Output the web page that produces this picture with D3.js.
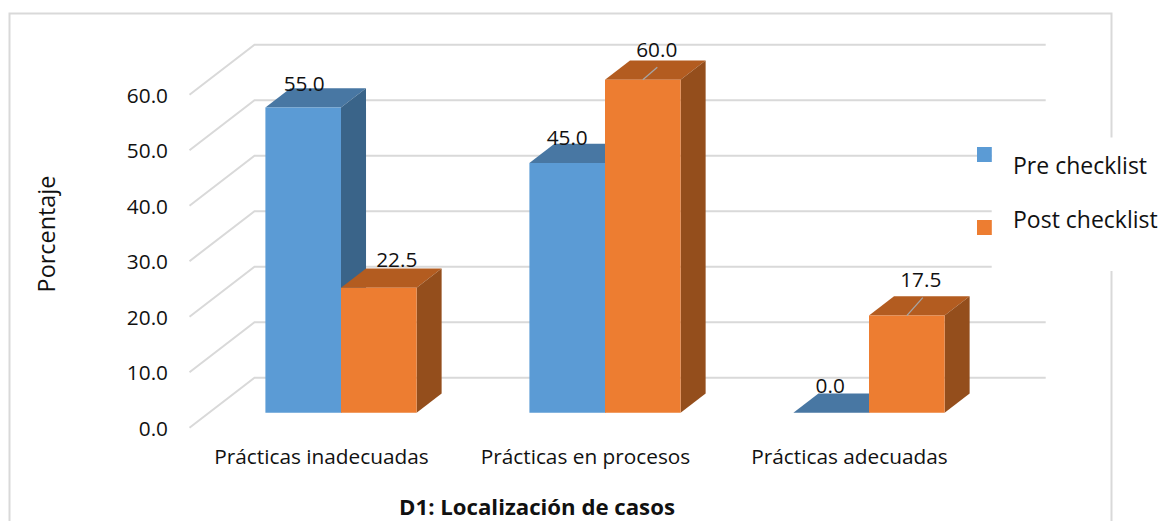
<!DOCTYPE html>
<html lang="es">
<head>
<meta charset="utf-8">
<title>D1: Localización de casos</title>
<script src="https://cdn.jsdelivr.net/npm/d3@7/dist/d3.min.js"></script>
<style>
  html, body { margin: 0; padding: 0; background: #fff; }
  svg { display: block; }
  text { font-family: "Open Sans", "Noto Sans", sans-serif; fill: #111; }
</style>
</head>
<body>
<svg id="chart" width="1162" height="521"></svg>
<script>
// Values of the chart
const categories = ["Prácticas inadecuadas", "Prácticas en procesos", "Prácticas adecuadas"];
const seriesNames = ["Pre checklist", "Post checklist"];
const preChecklist = [55.0, 45.0, 0.0];
const postChecklist = [22.5, 60.0, 17.5];
const yTicks = [0, 10, 20, 30, 40, 50, 60];
const axisTitleY = "Porcentaje";
const axisTitleX = "D1: Localización de casos";

const svg = d3.select("#chart");
const tickFont = 20.8, titleFont = 22.2, sideFont = 23.4, legendFont = 23;

// Oblique projection of the 3-D box: depth runs from the front edge of the floor to the back wall
const depthDX = 65, depthDY = -50;
const barDepthStart = 0.3, barDepthEnd = 0.685;
const project = (x, y, d) => [x + depthDX * d, y + depthDY * d];

const y = d3.scaleLinear().domain([0, 60]).range([427.7, 94.7]);
const x0 = d3.scaleBand().domain(d3.range(categories.length)).range([189.5, 981.5]);
const x1 = d3.scaleBand().domain(d3.range(seriesNames.length))
  .range([0, x0.bandwidth()]).paddingInner(0).paddingOuter(0.746);

const palette = [
  { front: "#5B9BD5", top: "#4877A3", side: "#3A6489" },
  { front: "#ED7D31", top: "#B35C20", side: "#944E1C" }
];

// Outer chart frame (open at the bottom edge)
svg.append("path")
  .attr("d", "M9.5,521V13.5H1111.5V521")
  .attr("fill", "none").attr("stroke", "#d9d9d9").attr("stroke-width", 2);

// Gridlines: diagonal on the side wall, horizontal on the back wall
const wallEndX = 1045.7;
const grid = svg.append("g").attr("fill", "none").attr("stroke", "#d9d9d9").attr("stroke-width", 2);
grid.selectAll("path").data(yTicks).join("path")
  .attr("d", v => {
    const [bx, by] = project(x0.range()[0], y(v), 1);
    return d3.line()([[x0.range()[0], y(v)], [bx, by], [wallEndX, by]]);
  });

// Value axis, labels only
const axis = svg.append("g")
  .attr("transform", "translate(177,0)")
  .call(d3.axisLeft(y).tickValues(yTicks).tickSize(0).tickPadding(9).tickFormat(d3.format(".1f")));
axis.select(".domain").remove();
axis.attr("font-family", null);
axis.selectAll("text").attr("font-size", tickFont).attr("dy", "0.36em");

// Draws one prism: top face, side face, then front face
function drawBar(g, c, s, value) {
  const colors = palette[s];
  const left = x0(c) + x1(s), right = left + x1.bandwidth();
  const base = y(0), topY = y(value);
  const fl = project(left, topY, barDepthStart), fr = project(right, topY, barDepthStart);
  const bl = project(left, topY, barDepthEnd), br = project(right, topY, barDepthEnd);
  const frBase = project(right, base, barDepthStart), brBase = project(right, base, barDepthEnd);
  const flBase = project(left, base, barDepthStart);
  const poly = pts => d3.line()(pts) + "Z";
  g.append("path").attr("d", poly([fl, bl, br, fr])).attr("fill", colors.top);
  if (value > 0) {
    g.append("path").attr("d", poly([fr, br, brBase, frBase])).attr("fill", colors.side);
    g.append("path").attr("d", poly([fl, fr, frBase, flBase])).attr("fill", colors.front);
  }
}

const bars = svg.append("g");
categories.forEach((_, c) => {
  [preChecklist, postChecklist].forEach((vals, s) => drawBar(bars, c, s, vals[c]));
});

// White panel behind the legend hides the frame and gridlines there
svg.append("rect").attr("x", 991.7).attr("y", 137.5).attr("width", 171).attr("height", 133.5).attr("fill", "#fff");

// Leader lines from the displaced data labels to their bars
const barTopCenter = (c, s, v) => [x0(c) + x1(s) + x1.bandwidth() / 2 + depthDX * barDepthStart, y(v) + depthDY * barDepthStart];
const leaders = [
  { c: 1, s: 1, v: postChecklist[1], dx: 14.5, dy: -12.5 },
  { c: 2, s: 1, v: postChecklist[2], dx: 16, dy: -18 }
];
svg.append("g").selectAll("path").data(leaders).join("path")
  .attr("fill", "none").attr("stroke", "#a6a6a6").attr("stroke-width", 1.3)
  .attr("d", l => {
    const [px, py] = barTopCenter(l.c, l.s, l.v);
    return d3.line()([[px, py], [px + l.dx, py + l.dy]]);
  });

// Data labels, each nudged the way it sits over its prism
const labelNudges = [
  [{ dx: 1, dy: -16.6 }, { dx: 18, dy: -21 }],
  [{ dx: 0, dy: -18 }, { dx: 14, dy: -23 }],
  [{ dx: -1, dy: -19.7 }, { dx: 14, dy: -29 }]
];
const labels = svg.append("g").attr("text-anchor", "middle").attr("font-size", tickFont);
categories.forEach((_, c) => {
  [preChecklist, postChecklist].forEach((vals, s) => {
    const [px, py] = barTopCenter(c, s, vals[c]);
    const n = labelNudges[c][s];
    labels.append("text").attr("x", px + n.dx).attr("y", py + n.dy).text(d3.format(".1f")(vals[c]));
  });
});

// Category labels
svg.append("g").attr("text-anchor", "middle").attr("font-size", tickFont)
  .selectAll("text").data(categories).join("text")
  .attr("x", (_, i) => x0(i) + x0.bandwidth() / 2)
  .attr("y", 464)
  .text(d => d);

// Axis titles
svg.append("text").attr("transform", "translate(55,234) rotate(-90)")
  .attr("text-anchor", "middle").attr("font-size", sideFont).text(axisTitleY);
svg.append("text").attr("x", 537).attr("y", 515)
  .attr("text-anchor", "middle").attr("font-size", titleFont).attr("font-weight", 700).text(axisTitleX);

// Legend
const legendRows = [147, 220], legendBaselines = [173.5, 227.7];
const legend = svg.append("g");
seriesNames.forEach((name, i) => {
  legend.append("rect").attr("x", 977).attr("y", legendRows[i]).attr("width", 14.8).attr("height", 15).attr("fill", palette[i].front);
  legend.append("text").attr("x", 1013).attr("y", legendBaselines[i]).attr("font-size", legendFont).text(name);
});
</script>
</body>
</html>
